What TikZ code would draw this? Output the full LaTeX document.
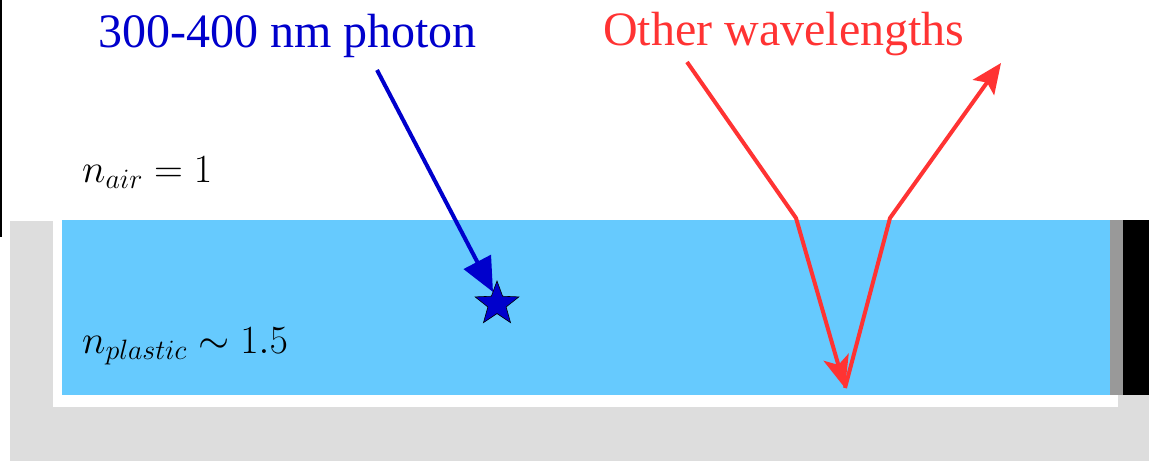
\RequirePackage{fix-cm}
\documentclass[tikz,border=0pt]{standalone}
\usepackage{fontspec}
\newfontfamily\labfont{Liberation Serif}
\usetikzlibrary{arrows.meta,shapes.geometric}
\definecolor{plastic}{HTML}{66CAFE}
\definecolor{framegray}{HTML}{DDDDDD}
\definecolor{edgegray}{HTML}{999999}
\definecolor{photonblue}{HTML}{0000CC}
\definecolor{otherred}{HTML}{FF3333}
\tikzset{
  lbl/.style={inner sep=0pt, anchor=base west, font=\labfont\fontsize{48}{56}\selectfont},
  mathlbl/.style={inner sep=0pt, anchor=base west, font=\fontsize{40}{48}\selectfont},
  ray/.style={line width=4pt, line join=miter},
}
\begin{document}
\begin{tikzpicture}[x=1pt,y=-1pt]
\useasboundingbox (0,0) rectangle (1149,461);
% frame and plastic slab
\fill[framegray] (10,221) rectangle (1149,461);
\fill[white] (53,221) rectangle (1118,407);
\fill[plastic] (62,220) rectangle (1110,395);
\fill[edgegray] (1110,220) rectangle (1123,395);
\fill[black] (1123,220) rectangle (1149,395);
\fill[black] (0,0) rectangle (2,237);
% labels
\node[lbl, text=photonblue] (photon) at (98,47) {300-400 nm photon};
\node[lbl, text=otherred] (other) at (603,45) {Other wavelengths};
\node[mathlbl] (nair) at (82,182) {$n_{air} = 1$};
\node[mathlbl] (nplastic) at (82,353) {$n_{plastic} \sim 1.5$};
% coordinates
\coordinate (bstart) at (377,70);
\coordinate (btip) at (493,292);
\coordinate (rstart) at (687,62);
\coordinate (rk1) at (796,218);
\coordinate (rbottom) at (845,388);
\coordinate (rk2) at (890,218);
\coordinate (rend) at (1001,63);
% blue photon
\draw[ray, photonblue, -{Triangle[length=34pt,width=30pt]}] (bstart) -- (btip);
\node[star, star points=5, star point ratio=2.4, minimum size=46pt, inner sep=0pt,
      fill=photonblue, draw=black, line width=0.6pt] (absorb) at (497,304) {};
% red reflected rays
\draw[ray, otherred, -{Stealth[length=32pt,width=26pt,inset=8pt]}] (rstart) -- (rk1) -- (rbottom);
\draw[ray, otherred, -{Stealth[length=30pt,width=26pt,inset=6pt]}] (rbottom) -- (rk2) -- (rend);
\end{tikzpicture}
\end{document}
